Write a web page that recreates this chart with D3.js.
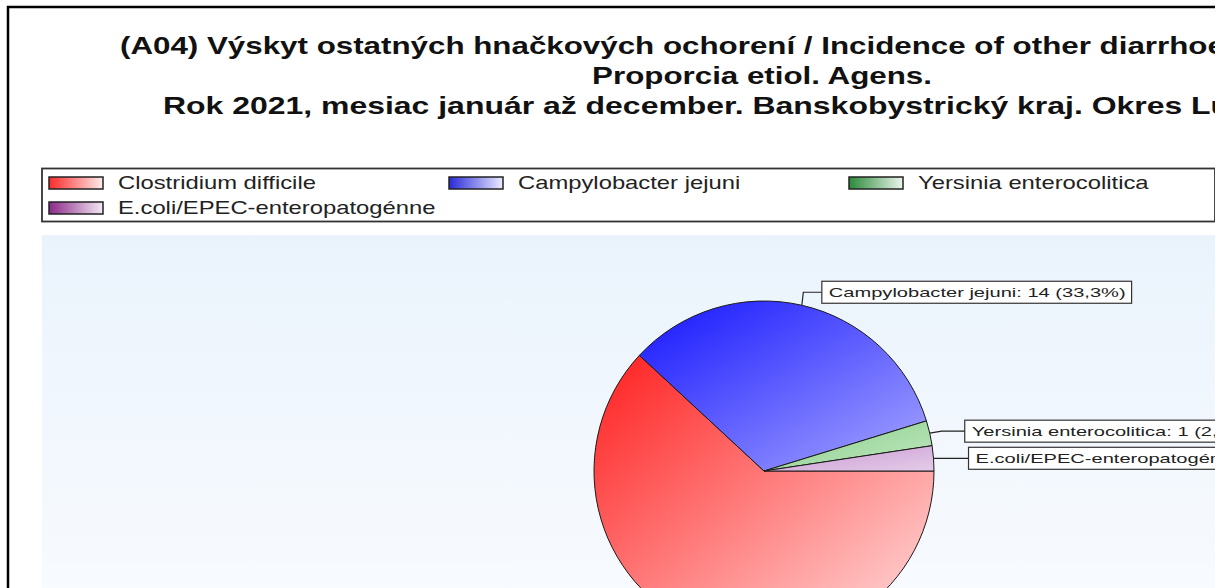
<!DOCTYPE html>
<html>
<head>
<meta charset="utf-8">
<script src="https://cdn.jsdelivr.net/npm/d3@7"></script>
<style>
  html, body { margin: 0; padding: 0; background: #ffffff; overflow: hidden; }
  svg { display: block; font-family: "Liberation Sans", Arial, sans-serif; }
</style>
</head>
<body>
<script>
// ---- data ----
const titleLines = [
  "(A04) Výskyt ostatných hnačkových ochorení / Incidence of other diarrhoeal diseases",
  "Proporcia etiol. Agens.",
  "Rok 2021, mesiac január až december. Banskobystrický kraj. Okres Lučenec"
];
const categories = ["Clostridium difficile", "Campylobacter jejuni", "Yersinia enterocolitica", "E.coli/EPEC-enteropatogénne"];
const values = [26, 14, 1, 1];
const sliceColorsStart = ["#ff1e1e", "#1414ff", "#84cc84", "#c896d2"];
const sliceColorsEnd   = ["#ffe2e2", "#a8a8ff", "#c4e8c4", "#e4cce8"];
const swatchStart = ["#ff2a2a", "#2a2ad8", "#2a8a3a", "#8a2a8a"];
const swatchEnd   = ["#ffecec", "#ececff", "#ecf6ec", "#f4e8f4"];
const labelled = [false, true, true, true];

// ---- layout ----
const W = 1225, H = 588;
const cx = 764, cy = 471, R = 170;

const svg = d3.select("body").append("svg").attr("width", W).attr("height", H);
const defs = svg.append("defs");
defs.append("clipPath").attr("id", "viewClip")
  .append("rect").attr("x", 0).attr("y", 0).attr("width", 1215).attr("height", H);
const root = svg.append("g").attr("clip-path", "url(#viewClip)");

// outer frame
root.append("rect").attr("x", 8).attr("y", 7).attr("width", 1600).attr("height", 800)
  .attr("fill", "#ffffff").attr("stroke", "#000").attr("stroke-width", 2.5);

// plot background
const bg = defs.append("linearGradient").attr("id", "bgGrad").attr("x1", 0).attr("y1", 0).attr("x2", 0).attr("y2", 1);
bg.append("stop").attr("offset", "0%").attr("stop-color", "#eaf3fc");
bg.append("stop").attr("offset", "100%").attr("stop-color", "#fafcff");
root.append("rect").attr("x", 42).attr("y", 235).attr("width", 1173).attr("height", 420)
  .attr("fill", "url(#bgGrad)");

// helper: horizontally stretched text
function stretchedText(g, str, x, y, size, weight, anchor, k) {
  return g.append("text")
    .attr("transform", `translate(${x},${y}) scale(${k},1)`)
    .attr("text-anchor", anchor)
    .attr("font-size", size)
    .attr("font-weight", weight)
    .attr("fill", "#111")
    .text(str);
}

// title
const titleG = root.append("g");
const tSize = 24;
const probe = titleG.append("text").attr("font-size", tSize).attr("font-weight", "bold").text(titleLines[1]);
const tk = 340 / probe.node().getComputedTextLength();
probe.remove();
const titleY = [54, 84, 114];
const titleX = [120, 762, 163];
const titleK = [tk, tk, tk * 1.02];
const titleAnchor = ["start", "middle", "start"];
titleLines.forEach((t, i) => stretchedText(titleG, t, titleX[i], titleY[i], tSize, "bold", titleAnchor[i], titleK[i]));

// legend
const legG = root.append("g");
legG.append("rect").attr("x", 42).attr("y", 168.5).attr("width", 1173).attr("height", 53)
  .attr("fill", "#fff").attr("stroke", "#333").attr("stroke-width", 1.8);
const lSize = 18;
const probe2 = legG.append("text").attr("font-size", lSize).text(categories[0]);
const lk = 198 / probe2.node().getComputedTextLength();
probe2.remove();
categories.forEach((c, i) => {
  const col = i % 3, row = Math.floor(i / 3);
  const gid = "sw" + i;
  const lg = defs.append("linearGradient").attr("id", gid).attr("x1", 0).attr("y1", 0).attr("x2", 1).attr("y2", 0);
  lg.append("stop").attr("offset", "0%").attr("stop-color", swatchStart[i]);
  lg.append("stop").attr("offset", "100%").attr("stop-color", swatchEnd[i]);
  const sx = 49 + col * 400, sy = 177 + row * 25;
  legG.append("rect").attr("x", sx).attr("y", sy).attr("width", 54).attr("height", 12)
    .attr("fill", `url(#${gid})`).attr("stroke", "#222").attr("stroke-width", 1.5);
  stretchedText(legG, c, sx + 69, sy + 12, lSize, "normal", "start", lk).attr("fill", "#222");
});

// pie
const total = d3.sum(values);
const pie = d3.pie().sort(null).value(d => d).startAngle(Math.PI / 2).endAngle(Math.PI / 2 + 2 * Math.PI);
const arcs = pie(values);
const arc = d3.arc().innerRadius(0).outerRadius(R);
const pieG = root.append("g").attr("transform", `translate(${cx},${cy})`);
arcs.forEach((a, i) => {
  const gid = "sl" + i;
  const lg = defs.append("linearGradient").attr("id", gid).attr("x1", 0).attr("y1", 0).attr("x2", 1).attr("y2", 1);
  lg.append("stop").attr("offset", "0%").attr("stop-color", sliceColorsStart[i]);
  lg.append("stop").attr("offset", "100%").attr("stop-color", sliceColorsEnd[i]);
});
pieG.selectAll("path.slice").data(arcs).join("path")
  .attr("class", "slice")
  .attr("d", arc)
  .attr("fill", (d, i) => `url(#sl${i})`)
  .attr("stroke", "#1a1a1a").attr("stroke-width", 1);

// labels
const locale = d3.formatLocale({ decimal: ",", thousands: " ", grouping: [3], currency: ["", "€"] });
const pct = locale.format(".1f");
const labG = root.append("g");
const labSize = 13;
const probe3 = labG.append("text").attr("font-size", labSize)
  .text(`${categories[1]}: ${values[1]} (${pct(values[1] / total * 100)}%)`);
const bk = 297 / probe3.node().getComputedTextLength();
probe3.remove();
// per-label leader offsets: [dx to box, dy of box mid from arc point, elbow dx]
const leaderLayout = [null, [20, -13, 1.5], [35, -2, 12], [35, 0, 12]];
arcs.forEach((a, i) => {
  if (!labelled[i]) return;
  const mid = (a.startAngle + a.endAngle) / 2;
  const px = cx + R * Math.sin(mid), py = cy - R * Math.cos(mid);
  const [dx, dy, ex] = leaderLayout[i];
  const bx = px + dx, by = py + dy;
  labG.append("path")
    .attr("d", `M${px},${py} L${px + ex},${by} L${bx},${by}`)
    .attr("fill", "none").attr("stroke", "#222").attr("stroke-width", 1.2);
  const str = `${categories[i]}: ${values[i]} (${pct(values[i] / total * 100)}%)`;
  const t = stretchedText(labG, str, bx + 7, by + 5, labSize, "normal", "start", bk).attr("fill", "#222");
  const tw = t.node().getComputedTextLength() * bk;
  labG.insert("rect", "text")
    .attr("x", bx).attr("y", by - 11).attr("width", tw + 13).attr("height", 22)
    .attr("fill", "#fff").attr("stroke", "#333").attr("stroke-width", 1.2);
});
</script>
</body>
</html>
